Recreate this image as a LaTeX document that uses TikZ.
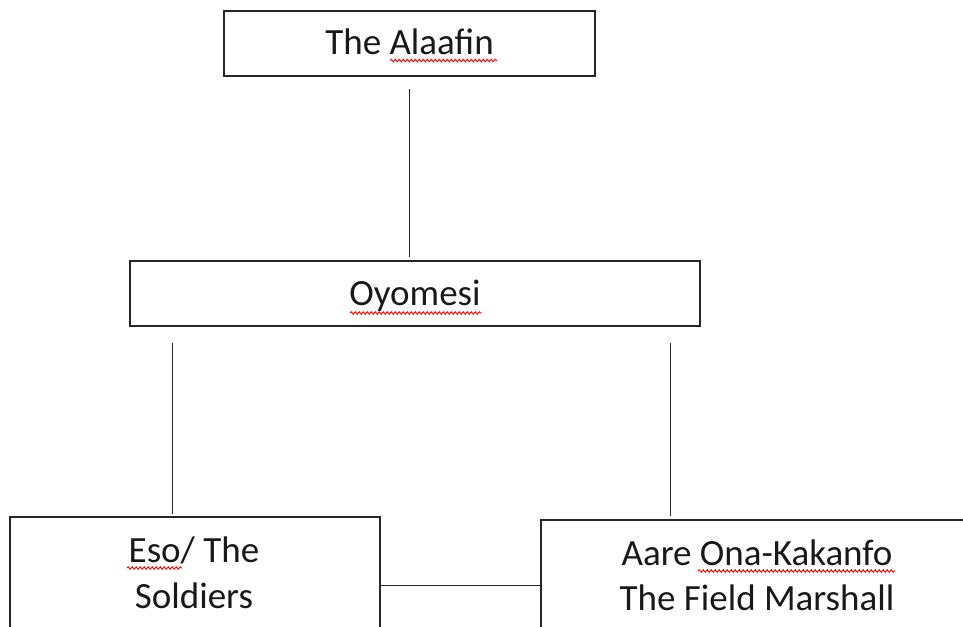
\documentclass[tikz,border=0pt]{standalone}
\usepackage{fontspec}
\setmainfont{Carlito}
\usetikzlibrary{calc,decorations.pathmorphing}
\begin{document}
\begin{tikzpicture}[x=1pt,y=-1pt,
  box/.style={draw=black!85, line width=1.4pt, rectangle, inner sep=0pt},
  lbl/.style={font=\fontsize{37}{46}\selectfont, text=black!90, inner sep=0pt, anchor=base},
  conn/.style={draw=black!85, line width=1pt},
  spell/.style={draw=red, line width=0.9pt, decorate, decoration={snake, amplitude=1.2pt, segment length=4pt}}]
\useasboundingbox (0,0) rectangle (963,626);
\clip (0,0) rectangle (963,626);
% boxes
\node[box, minimum width=371pt, minimum height=65pt] (alaafin) at (409.5,43.5) {};
\node[box, minimum width=570pt, minimum height=65pt] (oyomesi) at (415,293.5) {};
\node[box, minimum width=370pt, minimum height=120pt] (eso) at (195,577) {};
\node[box, minimum width=432pt, minimum height=120pt] (aare) at (757,580) {};
% texts
\node[lbl] (t1) at (409.5,55) {The Alaafin};
\node[lbl] (t2) at (415,305) {Oyomesi};
\node[lbl] (t3) at (194,562) {Eso/ The};
\node[lbl] (t4) at (194,608) {Soldiers};
\node[lbl] (t5) at (757,565) {Aare Ona-Kakanfo};
\node[lbl] (t6) at (757,610) {The Field Marshall};
% spell-check marks
\draw[spell] (390,60.5) -- (497,60.5);
\draw[spell] (350,313) -- (482,313);
\draw[spell] (127,568) -- (182,568);
\draw[spell] (698,571) -- (895,571);
% connectors
\coordinate (top) at ($(alaafin.south)+(0,12)$);
\coordinate (ol) at ($(oyomesi.south west)+(43,16)$);
\coordinate (or) at ($(oyomesi.south east)+(-30,16)$);
\draw[conn] (top) -- ($(top |- oyomesi.north)+(0,-3)$);
\draw[conn] (ol) -- ($(ol |- eso.north)+(0,-2)$);
\draw[conn] (or) -- ($(or |- aare.north)+(0,-3)$);
\draw[conn] ($(eso.north east)+(0,69)$) -- ($(aare.north west)+(0,66)$);
\end{tikzpicture}
\end{document}
